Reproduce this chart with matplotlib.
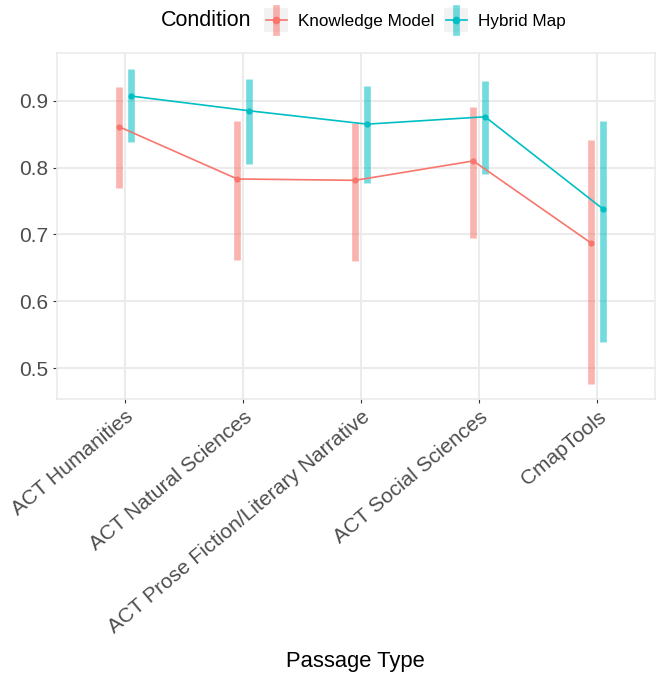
import matplotlib
matplotlib.use("Agg")
import matplotlib.pyplot as plt
from matplotlib.lines import Line2D
from matplotlib.patches import Rectangle
from matplotlib.legend_handler import HandlerBase
from matplotlib.offsetbox import HPacker
import numpy as np

plt.rcParams['font.family'] = ['Liberation Sans', 'DejaVu Sans']

categories = ["ACT Humanities", "ACT Natural Sciences",
              "ACT Prose Fiction/Literary Narrative", "ACT Social Sciences", "CmapTools"]
conditions = ["Knowledge Model", "Hybrid Map"]
km_mean = [0.861, 0.783, 0.781, 0.810, 0.687]
km_low = [0.769, 0.662, 0.660, 0.694, 0.477]
km_high = [0.920, 0.870, 0.867, 0.890, 0.841]
hm_mean = [0.907, 0.885, 0.865, 0.876, 0.738]
hm_low = [0.839, 0.805, 0.777, 0.790, 0.539]
hm_high = [0.947, 0.933, 0.922, 0.930, 0.870]
colors = ["#F8766D", "#00BFC4"]

fig = plt.figure(figsize=(6.57, 6.74), dpi=100)
ax = fig.add_axes([0.0863, 0.408, 0.9107, 0.513])

x = np.arange(1, len(categories) + 1)
dodge = 0.05
series = [(km_mean, km_low, km_high, -dodge), (hm_mean, hm_low, hm_high, dodge)]
for (m, lo, hi, d), c in zip(series, colors):
    xs = x + d
    ax.vlines(xs, lo, hi, color=c, alpha=0.55, linewidth=4.8, zorder=3)
    ax.plot(xs, m, color=c, linewidth=1.2, zorder=4)
    ax.scatter(xs, m, color=c, s=20, zorder=5, linewidths=0)

ax.set_xlim(0.42, 5.49)
ax.set_ylim(0.454, 0.971)
ax.set_xticks(x)
ax.set_xticklabels(categories, rotation=40, ha='right', va='top',
                   rotation_mode='anchor', fontsize=15, color='#4D4D4D')
ax.set_yticks([0.5, 0.6, 0.7, 0.8, 0.9])
ax.set_yticklabels(["0.5", "0.6", "0.7", "0.8", "0.9"], fontsize=15, color='#4D4D4D')
ax.tick_params(axis='both', length=3, width=0.8, color='#333333', pad=3)
ax.grid(True, color='#EBEBEB', linewidth=1.5, zorder=0)
ax.set_axisbelow(True)
for s in ax.spines.values():
    s.set_color('#EBEBEB')
    s.set_linewidth(1.2)
ax.set_xlabel("Passage Type", fontsize=15.8, color='black', labelpad=10)


class KeyHandler(HandlerBase):
    def __init__(self, color):
        super().__init__()
        self.color = color

    def create_artists(self, legend, orig_handle, xdescent, ydescent,
                       width, height, fontsize, trans):
        s = 17
        x0 = (width - s) / 2 - xdescent
        y0 = (height - s) / 2 - ydescent
        rect = Rectangle((x0, y0), s, s, facecolor='#F2F2F2', edgecolor='none', transform=trans)
        cx, cy = x0 + s / 2, y0 + s / 2
        v = Line2D([cx, cx], [y0, y0 + s], color=self.color, alpha=0.55, linewidth=4.8, transform=trans)
        h = Line2D([x0 + 1, x0 + s - 1], [cy, cy], color=self.color, linewidth=1.2, transform=trans)
        p = Line2D([cx], [cy], marker='o', markersize=4.5, color=self.color, linestyle='none', transform=trans)
        return [rect, v, h, p]


handles = [Line2D([], [], color=c) for c in colors]
hmap = {h: KeyHandler(c) for h, c in zip(handles, colors)}
leg = fig.legend(handles, conditions, handler_map=hmap, loc='center',
                 bbox_to_anchor=(0.553, 0.970), ncol=2, frameon=False,
                 title="Condition", fontsize=12.3, title_fontsize=15.5,
                 handlelength=1.4, handleheight=1.2, handletextpad=0.55, columnspacing=0.6)
title_box = leg._legend_title_box
entries = leg._legend_handle_box
newbox = HPacker(pad=0, sep=9, children=[title_box, entries], align="center")
leg._legend_box._children = [newbox]

fig.savefig("out.png", dpi=100)
